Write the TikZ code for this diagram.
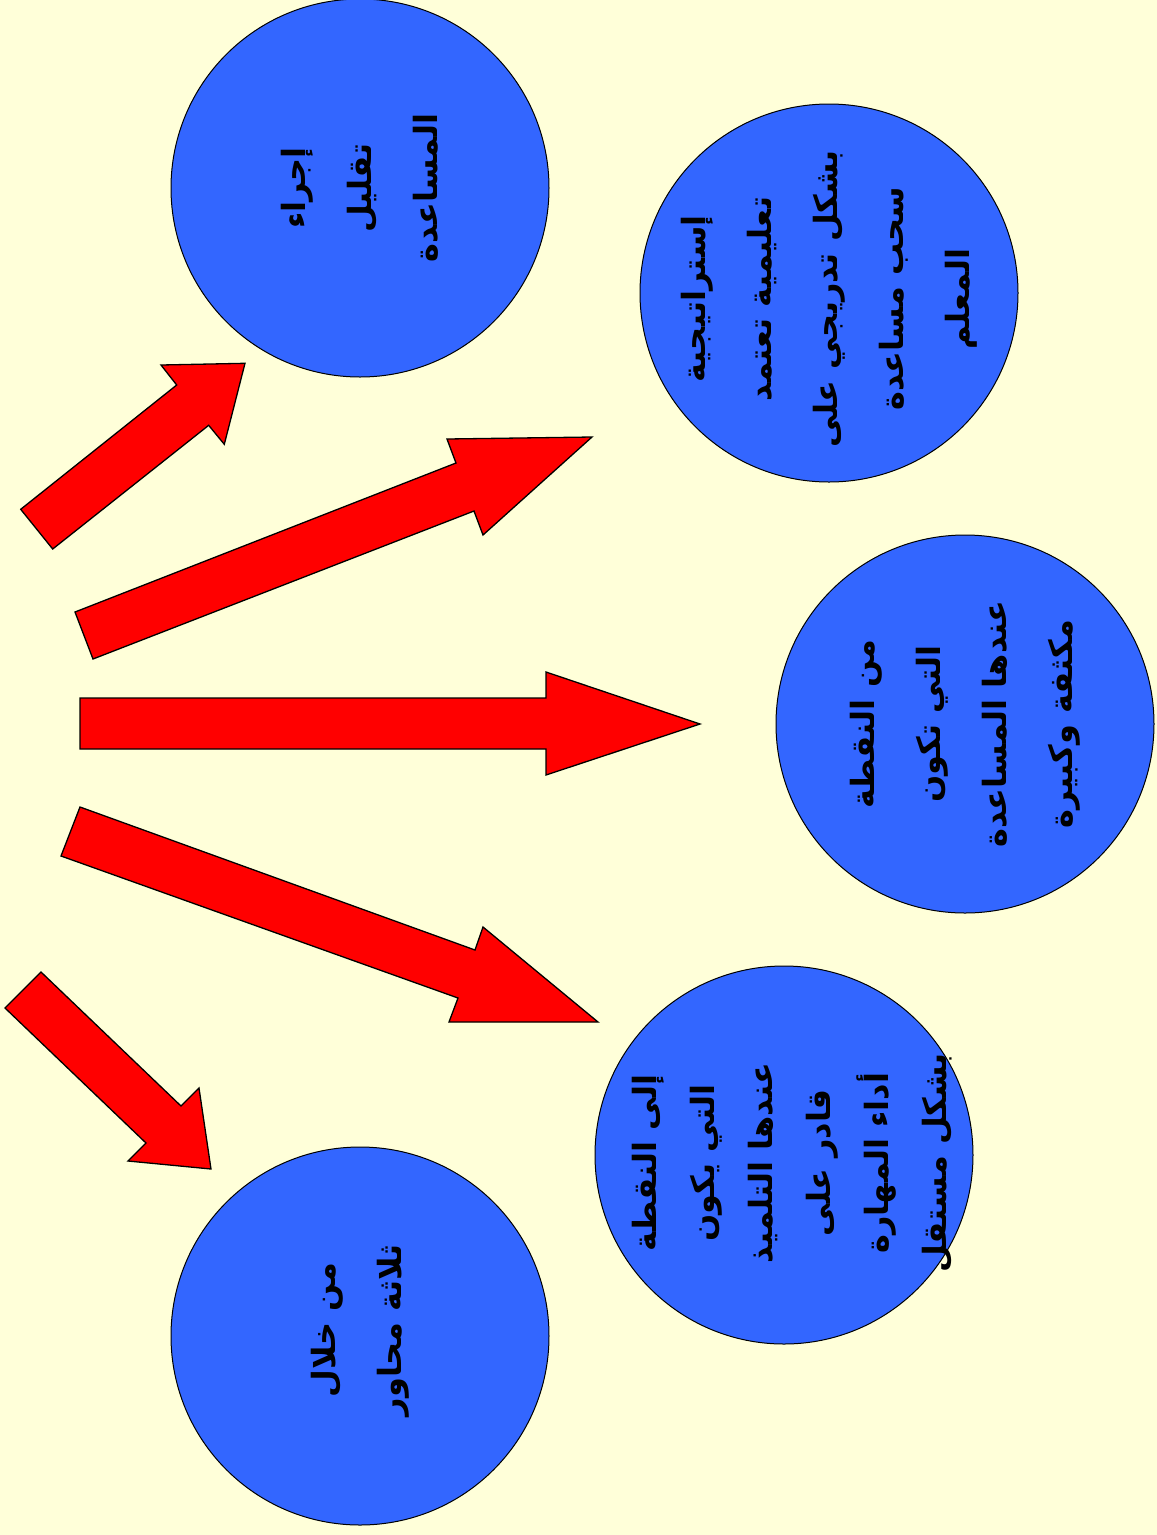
\documentclass[tikz,border=0pt]{standalone}
\usepackage{fontspec}
\newfontfamily\arabicfont[Script=Arabic]{DejaVu Sans}
\TeXXeTstate=1
\usepackage{tikz}
\usetikzlibrary{calc,positioning}
\definecolor{slidebg}{RGB}{255,255,217}
\definecolor{discblue}{RGB}{51,102,255}
\newcommand{\arline}[1]{\beginR #1\endR}

\begin{document}
\begin{tikzpicture}[x=1pt, y=-1pt,
    disc/.style={circle, draw=black, line width=1pt, fill=discblue,
        minimum size=378pt, inner sep=0pt},
    blockarrow/.style={draw=black, line width=1.3pt, fill=red, line join=miter},
    disctext/.style={rotate=90, align=center,
        font={\arabicfont\bfseries\fontsize{32}{66}\selectfont}},
    tighttext/.style={disctext, font={\arabicfont\bfseries\fontsize{32}{58}\selectfont}}]

        \fill[slidebg] (0,0) rectangle (1157,1535);
        \useasboundingbox (0,0) rectangle (1157,1535);

        % the five discs
        \node[disc] (c1) at (360,188) {};
        \node[disc] (c2) at (829,293) {};
        \node[disc] (c3) at (965,724) {};
        \node[disc] (c4) at (784,1155) {};
        \node[disc] (c5) at (360,1336) {};

        \node[disctext] (t1) at (c1.center)
            {\arline{إجراء}\\\arline{تقليل}\\\arline{المساعدة}};
        \node[disctext] (t2) at ($(c2.center)+(0,6)$)
            {\arline{إستراتيجية}\\\arline{تعليمية تعتمد}\\\arline{بشكل تدريجي على}\\\arline{سحب مساعدة}\\\arline{المعلم}};
        \node[disctext] (t3) at (c3.center)
            {\arline{من النقطة}\\\arline{التي تكون}\\\arline{عندها المساعدة}\\\arline{مكثفة وكبيرة}};
        \node[tighttext] (t4) at ($(c4.center)+(8,8)$)
            {\arline{إلى النقطة}\\\arline{التي يكون}\\\arline{عندها التلميذ}\\\arline{قادر على}\\\arline{أداء المهارة}\\\arline{بشكل مستقل}};
        \node[disctext] (t5) at ($(c5.center)+(0,-6)$)
            {\arline{من خلال}\\\arline{ثلاثة محاور}};

        % block arrows
        \draw[blockarrow] (20.7,509.3) -- (176.7,385) -- (161,365) -- (245,363.3)
            -- (224.3,444.3) -- (208.7,425.3) -- (52.7,549) -- cycle;
        \draw[blockarrow] (75,612) -- (456,463) -- (447,439) -- (592,437)
            -- (483,535) -- (474,511) -- (93,659) -- cycle;
        \draw[blockarrow] (80,698) -- (546,698) -- (546,672) -- (700,724)
            -- (546,775) -- (546,749) -- (80,749) -- cycle;
        \draw[blockarrow] (80,807) -- (475,950) -- (483,927) -- (598,1022)
            -- (449,1022) -- (458,998) -- (61,856) -- cycle;
        \draw[blockarrow] (41,972) -- (181,1106) -- (199,1088) -- (211,1169)
            -- (128,1161) -- (146,1143) -- (5,1008) -- cycle;
    \end{tikzpicture}
\end{document}
